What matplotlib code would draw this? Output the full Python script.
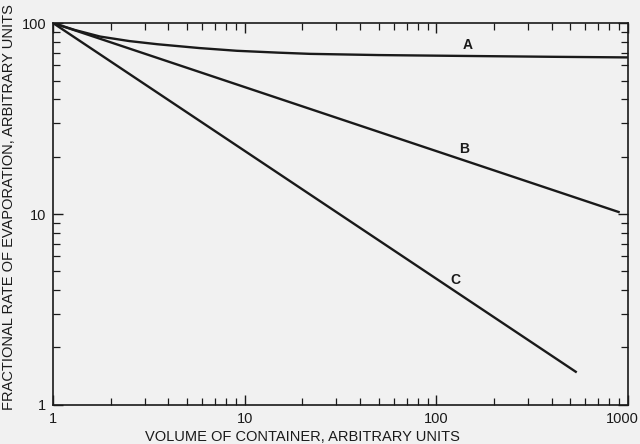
import matplotlib
matplotlib.use("Agg")
import matplotlib.pyplot as plt
from matplotlib.ticker import LogLocator, NullFormatter, FixedFormatter, FixedLocator
from matplotlib.transforms import ScaledTranslation

# curve data (volume, fractional rate)
a_x = [1, 1.3, 1.76, 2.5, 3.5, 5.8, 9.1, 15, 21.9, 50, 118, 400, 1000]
a_y = [100, 92, 85, 80.5, 77.5, 74, 71.6, 70.0, 69.0, 68.0, 67.4, 66.6, 66.1]
b_x = [1, 907]
b_y = [100, 10.2]
c_x = [1, 541]
c_y = [100, 1.48]

labels = ["A", "B", "C"]
label_x = [146, 139, 126]
label_y = [76.7, 21.9, 4.5]

x_ticks = [1, 10, 100, 1000]
x_tick_labels = ["1", "10", "100", "1000"]
y_ticks = [1, 10, 100]
y_tick_labels = ["1", "10", "100"]

plt.rcParams["font.family"] = ["Liberation Sans", "DejaVu Sans"]
bg = "#f1f1f1"
ink = "#1a1a1a"

fig = plt.figure(figsize=(6.4, 4.44), dpi=100, facecolor=bg)
ax = fig.add_axes([0.083, 0.088, 0.898, 0.86], facecolor=bg)

for xs, ys in [(a_x, a_y), (b_x, b_y), (c_x, c_y)]:
    ax.plot(xs, ys, color=ink, lw=1.7, solid_capstyle="butt")

for t, x, y in zip(labels, label_x, label_y):
    ax.text(x, y, t, fontsize=10, fontweight="bold", color=ink, ha="center", va="center")

ax.set_xscale("log")
ax.set_yscale("log")
ax.set_xlim(1, 1000)
ax.set_ylim(1, 100)

ax.xaxis.set_major_locator(FixedLocator(x_ticks))
ax.xaxis.set_major_formatter(FixedFormatter(x_tick_labels))
ax.yaxis.set_major_locator(FixedLocator(y_ticks))
ax.yaxis.set_major_formatter(FixedFormatter(y_tick_labels))
ax.xaxis.set_minor_locator(LogLocator(base=10, subs=range(2, 10)))
ax.yaxis.set_minor_locator(LogLocator(base=10, subs=range(2, 10)))
ax.xaxis.set_minor_formatter(NullFormatter())
ax.yaxis.set_minor_formatter(NullFormatter())

ax.tick_params(which="both", direction="in", top=True, right=True, color=ink,
               labelsize=10.5, labelcolor=ink)
ax.tick_params(which="major", length=7, width=1.0, pad=5)
ax.tick_params(which="minor", length=5, width=0.9)

for s in ax.spines.values():
    s.set_color(ink)
    s.set_linewidth(1.2)

ax.set_xlabel("VOLUME OF CONTAINER, ARBITRARY UNITS", fontsize=10.5, color=ink)
ax.xaxis.set_label_coords(0.433, -0.065)
ax.set_ylabel("FRACTIONAL RATE OF EVAPORATION, ARBITRARY UNITS", fontsize=10.5, color=ink)
ax.yaxis.set_label_coords(-0.065, 0.518)

fig.canvas.draw()
last = ax.get_xticklabels()[-1]
last.set_transform(last.get_transform() + ScaledTranslation(-6 / 100, 0, fig.dpi_scale_trans))

fig.savefig("out.png", dpi=100, facecolor=bg)
